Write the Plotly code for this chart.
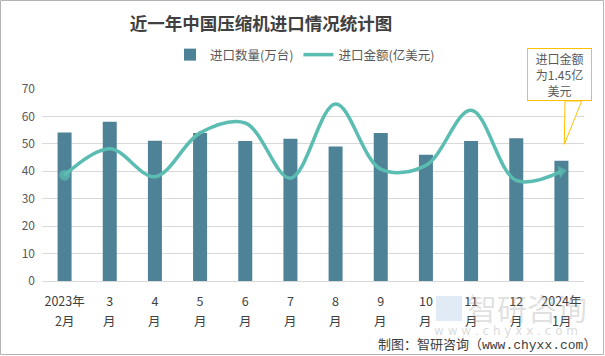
import math
import plotly.graph_objects as go

months_line1 = ["2023年", "3", "4", "5", "6", "7", "8", "9", "10", "11", "12", "2024年"]
months_line2 = ["2月", "月", "月", "月", "月", "月", "月", "月", "月", "月", "月", "1月"]
categories = ["2023年2月", "2023年3月", "2023年4月", "2023年5月", "2023年6月", "2023年7月",
              "2023年8月", "2023年9月", "2023年10月", "2023年11月", "2023年12月", "2024年1月"]
qty = [54.1, 58.1, 51.1, 54.0, 51.0, 51.9, 49.0, 54.0, 46.0, 51.0, 52.0, 43.8]   # 万台
amount = [1.40, 1.75, 1.38, 1.96, 2.09, 1.36, 2.34, 1.48, 1.53, 2.26, 1.33, 1.45]  # 亿美元

W, H = 605, 356
ML, MR, MT, MB = 42, 21, 89, 75
PW, PH = W - ML - MR, H - MT - MB
Y2MAX = 2.54

BAR = "#4E8297"
LINE = "#5BBDB2"
TXT = "#595959"
FONT = "Noto Sans CJK SC"

def px(x):
    return (x - ML) / PW

def py(y):
    return (H - MB - y) / PH

# arrow direction at the last point (screen pixels)
step = PW / len(categories)
dy_px = (amount[-1] - amount[-2]) / Y2MAX * PH
arrow_angle = 90 - math.degrees(math.atan2(dy_px, step))

n = len(amount)
fig = go.Figure()
fig.add_trace(go.Bar(x=categories, y=qty, name="进口数量(万台)", marker_color=BAR,
                     marker_line_width=0, width=0.31))
fig.add_trace(go.Scatter(
    x=categories, y=amount, name="进口金额(亿美元)", yaxis="y2", mode="lines+markers",
    line=dict(color=LINE, width=3.5, shape="spline", smoothing=1.0),
    marker=dict(color=LINE, symbol=["circle"] * (n - 1) + ["triangle-up"],
                size=[11] + [1] * (n - 2) + [11], angle=[0] * (n - 1) + [arrow_angle],
                line=dict(width=0)),
))

annotations = []
for c, t in zip(categories, months_line2):
    annotations.append(dict(x=c, xref="x", y=py(320), yref="paper", text=t, showarrow=False,
                            font=dict(family=FONT, size=12.5, color="#404040"),
                            xanchor="center", yanchor="middle"))
# callout
annotations.append(dict(x=px(559.5), y=py(48), xref="paper", yref="paper",
                        text="进口金额<br>为1.45亿<br>美元", showarrow=False,
                        xanchor="center", yanchor="top", width=61, height=49,
                        bordercolor="#FFC000", borderwidth=1, borderpad=1, bgcolor="white",
                        font=dict(family=FONT, size=12, color=TXT)))
# watermark
annotations.append(dict(x=px(527), y=py(307), xref="paper", yref="paper", text="智研咨询",
                        xanchor="center", yanchor="middle", showarrow=False,
                        font=dict(family=FONT, size=30, color="rgba(150,150,150,0.3)")))
annotations.append(dict(x=px(506), y=py(331), xref="paper", yref="paper",
                        xanchor="center", yanchor="middle",
                        text="w w w . c h y x x . c o m", showarrow=False,
                        font=dict(family="DejaVu Sans", size=12, color="rgba(160,160,160,0.4)")))
# footer
annotations.append(dict(x=px(598), y=py(345), xref="paper", yref="paper", xanchor="right",
                        yanchor="middle", text="制图：智研咨询（www.chyxx.com）", showarrow=False,
                        font=dict(family="Liberation Mono, " + FONT, size=13, color="#404040")))

def pix(xa, ya):
    return xa - ML, H - MB - ya

p1 = pix(565, 101); p2 = pix(564.3, 144.3); p3 = pix(581.7, 101)
b0 = pix(0.5, 354.5); b1 = pix(603.5, 0.5)
l0 = pix(436, 296); l1 = pix(462, 321)
shapes = [
    dict(type="path", xref="paper", yref="paper", xsizemode="pixel", ysizemode="pixel",
         xanchor=0, yanchor=0,
         path=f"M{p1[0]},{p1[1]} L{p2[0]},{p2[1]} L{p3[0]},{p3[1]} Z",
         line=dict(color="#FFC000", width=1), fillcolor="white", layer="above"),
    dict(type="rect", xref="paper", yref="paper", xsizemode="pixel", ysizemode="pixel",
         xanchor=0, yanchor=0, x0=b0[0], y0=b0[1], x1=b1[0], y1=b1[1],
         line=dict(color="#B4B4B4", width=1), fillcolor="rgba(0,0,0,0)", layer="above"),
    dict(type="rect", xref="paper", yref="paper", xsizemode="pixel", ysizemode="pixel",
         xanchor=0, yanchor=0, x0=l0[0], y0=l0[1], x1=l1[0], y1=l1[1],
         line=dict(width=0), fillcolor="rgba(120,165,215,0.22)", layer="above"),
]

fig.update_layout(
    width=W, height=H, margin=dict(l=ML, r=MR, t=MT, b=MB, autoexpand=False),
    paper_bgcolor="white", plot_bgcolor="white",
    title=dict(text="<b>近一年中国压缩机进口情况统计图</b>", x=261 / W, xanchor="center",
               y=1 - 24 / H, yanchor="middle", xref="container", yref="container",
               font=dict(family=FONT, size=17.5, color="#404040")),
    legend=dict(orientation="h", x=px(305), xanchor="center", y=py(55), yanchor="middle",
                font=dict(family=FONT, size=12.5, color=TXT), bgcolor="rgba(0,0,0,0)",
                itemwidth=30, tracegroupgap=0),
    xaxis=dict(type="category", tickmode="array", tickvals=categories, ticktext=months_line1,
               range=[-0.5, len(categories) - 0.5],
               tickfont=dict(family=FONT, size=12.5, color="#404040"), showgrid=False,
               showline=True, linecolor="#D9D9D9", linewidth=1, ticks="", ticklabelstandoff=9,
               automargin=False),
    yaxis=dict(range=[0, 70], dtick=10, showgrid=True, gridcolor="#D9D9D9", gridwidth=1,
               zeroline=False, tickfont=dict(family=FONT, size=12, color=TXT), ticks="",
               ticklabelstandoff=6, automargin=False),
    yaxis2=dict(range=[0, Y2MAX], overlaying="y", visible=False),
    bargap=0.69,
    annotations=annotations, shapes=shapes, showlegend=True,
)

fig.write_html("out.html")
